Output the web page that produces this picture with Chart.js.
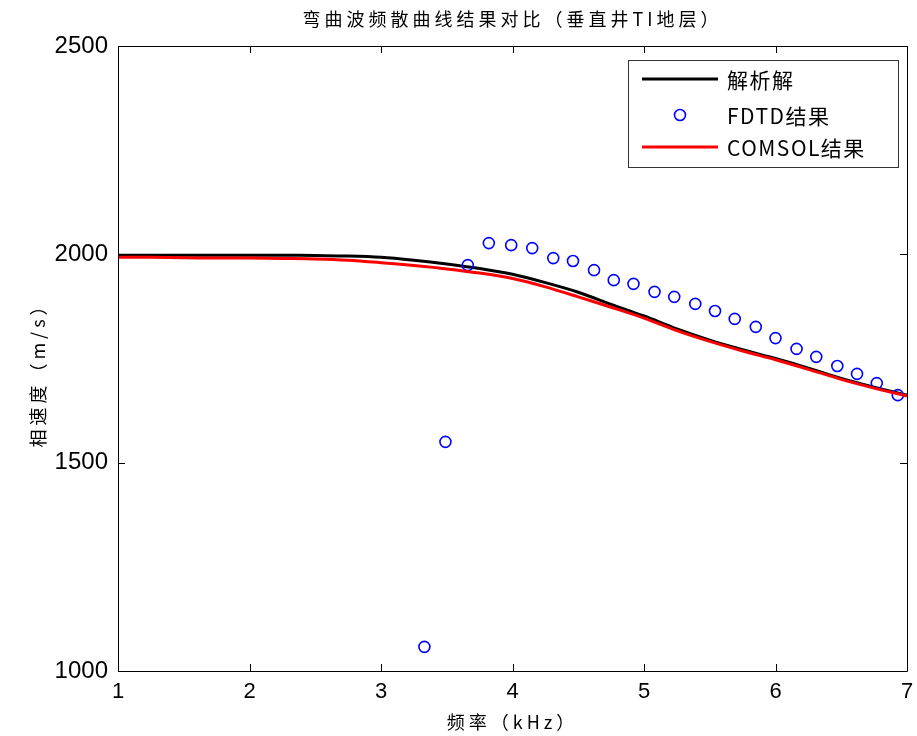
<!DOCTYPE html>
<html>
<head>
<meta charset="utf-8">
<script src="https://cdn.jsdelivr.net/npm/chart.js@4"></script>
<style>
    html, body { margin: 0; padding: 0; background: #fff; }
    #wrap { width: 917px; height: 736px; }
</style>
</head>
<body>
<div id="wrap"><canvas id="dispersion"></canvas></div>
<script>
// frequency grid of the two continuous curves (kHz)
const lineFreq = [1, 1.25, 1.5, 1.75, 2, 2.25, 2.5, 2.75, 3, 3.25, 3.5, 3.75, 4,
    4.25, 4.5, 4.75, 5, 5.25, 5.5, 5.75, 6, 6.25, 6.5, 6.75, 7]
// 解析解 phase velocity (m/s)
const analyticVel = [1998, 1998, 1998, 1998, 1998, 1998, 1997, 1996, 1993, 1986, 1977, 1966, 1952,
    1932, 1909, 1880, 1852, 1821, 1794, 1771, 1750, 1727, 1702, 1681, 1662]
// COMSOL结果 phase velocity (m/s)
const comsolVel = [1993, 1993, 1992, 1991, 1991, 1990, 1989, 1986, 1980, 1973, 1965, 1955, 1942,
    1922, 1898, 1873, 1847, 1817, 1791, 1768, 1747, 1724, 1700, 1679, 1660]
// FDTD结果 points
const fdtdFreq = [3.33, 3.49, 3.66, 3.82, 3.99, 4.15, 4.31, 4.46, 4.62, 4.77, 4.92, 5.08,
    5.23, 5.39, 5.54, 5.69, 5.85, 6.0, 6.16, 6.31, 6.47, 6.62, 6.77, 6.93]
const fdtdVel = [1058, 1550, 1974, 2027, 2022, 2015, 1991, 1984, 1962, 1938, 1929, 1910,
    1898, 1881, 1864, 1845, 1826, 1799, 1773, 1754, 1732, 1713, 1691, 1662]

const xTicks = [1, 2, 3, 4, 5, 6, 7]
const yTicks = [1000, 1500, 2000, 2500]

const chartTitle = '弯曲波频散曲线结果对比（垂直井TI地层）'
const xTitle = '频率（kHz）'
const yTitle = '相速度（m/s）'
const legendLabels = ['解析解', 'FDTD结果', 'COMSOL结果']

const cjkFont = '"Noto Sans CJK SC", "Liberation Sans", sans-serif'
const numFont = '"Liberation Sans", Arial, sans-serif'

const toPoints = (xs, ys) => xs.map((x, i) => ({ x: x, y: ys[i] }))

// box, inward ticks, titles and legend in the MATLAB style
const matlabFrame = {
    id: 'matlabFrame',
    afterDraw(chart) {
        const ctx = chart.ctx
        const area = chart.chartArea
        const xs = chart.scales.x
        const ys = chart.scales.y
        const tickLen = 7
        ctx.save()
        ctx.strokeStyle = '#000'
        ctx.lineWidth = 1
        ctx.beginPath()
        ctx.rect(Math.round(area.left) + 0.5, Math.round(area.top) + 0.5,
            Math.round(area.right - area.left), Math.round(area.bottom - area.top))
        xTicks.forEach(v => {
            const px = Math.round(xs.getPixelForValue(v)) + 0.5
            ctx.moveTo(px, area.bottom); ctx.lineTo(px, area.bottom - tickLen)
            ctx.moveTo(px, area.top); ctx.lineTo(px, area.top + tickLen)
        })
        yTicks.forEach(v => {
            const py = Math.round(ys.getPixelForValue(v)) + 0.5
            ctx.moveTo(area.left, py); ctx.lineTo(area.left + tickLen, py)
            ctx.moveTo(area.right, py); ctx.lineTo(area.right - tickLen, py)
        })
        ctx.stroke()

        // titles
        ctx.fillStyle = '#000'
        ctx.textAlign = 'center'
        ctx.textBaseline = 'middle'
        ctx.letterSpacing = '4px'
        ctx.font = '18px ' + cjkFont
        const midX = (area.left + area.right) / 2
        ctx.fillText(chartTitle, midX, 19)
        ctx.fillText(xTitle, midX, 722)
        ctx.save()
        ctx.translate(38, (area.top + area.bottom) / 2 + 12)
        ctx.rotate(-Math.PI / 2)
        ctx.letterSpacing = '4px'
        ctx.fillText(yTitle, 0, 0)
        ctx.restore()

        // legend
        const lx = 628, ly = 60, lw = 270, lh = 107
        ctx.fillStyle = '#fff'
        ctx.fillRect(lx, ly, lw, lh)
        ctx.strokeStyle = '#333'
        ctx.strokeRect(lx + 0.5, ly + 0.5, lw, lh)
        const rows = [79, 115, 147]
        const sets = chart.data.datasets
        rows.forEach((ry, i) => {
            const ds = sets[i]
            if (ds.showLine) {
                ctx.strokeStyle = ds.borderColor
                ctx.lineWidth = ds.borderWidth
                ctx.beginPath()
                ctx.moveTo(642, ry); ctx.lineTo(718, ry)
                ctx.stroke()
            } else {
                ctx.strokeStyle = ds.borderColor
                ctx.lineWidth = ds.pointBorderWidth
                ctx.beginPath()
                ctx.arc(680, ry, ds.pointRadius, 0, Math.PI * 2)
                ctx.stroke()
            }
            ctx.fillStyle = '#000'
            ctx.textAlign = 'left'
            ctx.letterSpacing = '1.5px'
            ctx.font = '21px ' + cjkFont
            ctx.fillText(legendLabels[i], 727, ry + 1)
        })
        ctx.restore()
    }
}

const canvas = document.getElementById('dispersion')
canvas.width = 917
canvas.height = 736

new Chart(canvas.getContext('2d'), {
    type: 'scatter',
    data: {
        datasets: [
            {
                label: legendLabels[0],
                data: toPoints(lineFreq, analyticVel),
                showLine: true,
                borderColor: '#000000',
                borderWidth: 3,
                pointRadius: 0,
                tension: 0.3,
                order: 2
            },
            {
                label: legendLabels[1],
                data: toPoints(fdtdFreq, fdtdVel),
                showLine: false,
                borderColor: '#0000ff',
                backgroundColor: 'rgba(0,0,0,0)',
                pointRadius: 5.5,
                pointBorderWidth: 1.6,
                pointStyle: 'circle',
                order: 1
            },
            {
                label: legendLabels[2],
                data: toPoints(lineFreq, comsolVel),
                showLine: true,
                borderColor: '#ff0000',
                borderWidth: 3,
                pointRadius: 0,
                tension: 0.3,
                order: 0
            }
        ]
    },
    options: {
        responsive: false,
        animation: false,
        layout: {
            padding: { top: 46, right: 10, bottom: 0, left: 0 }
        },
        plugins: {
            legend: { display: false },
            tooltip: { enabled: false },
            title: { display: false }
        },
        scales: {
            x: {
                type: 'linear',
                min: 1,
                max: 7,
                afterFit: scale => {
                    scale.height = 65
                    scale.paddingLeft = 0
                    scale.paddingRight = 0
                },
                afterBuildTicks: scale => { scale.ticks = xTicks.map(v => ({ value: v })) },
                ticks: {
                    color: '#000',
                    padding: 0,
                    font: { family: numFont, size: 22 },
                    callback: value => String(value)
                },
                grid: { display: false },
                border: { display: false }
            },
            y: {
                type: 'linear',
                min: 1000,
                max: 2500,
                afterFit: scale => {
                    scale.width = 118
                    scale.paddingTop = 0
                    scale.paddingBottom = 0
                },
                afterBuildTicks: scale => { scale.ticks = yTicks.map(v => ({ value: v })) },
                ticks: {
                    color: '#000',
                    padding: 2,
                    font: { family: numFont, size: 24 },
                    callback: value => String(value)
                },
                grid: { display: false },
                border: { display: false }
            }
        }
    },
    plugins: [matlabFrame]
})
</script>
</body>
</html>
